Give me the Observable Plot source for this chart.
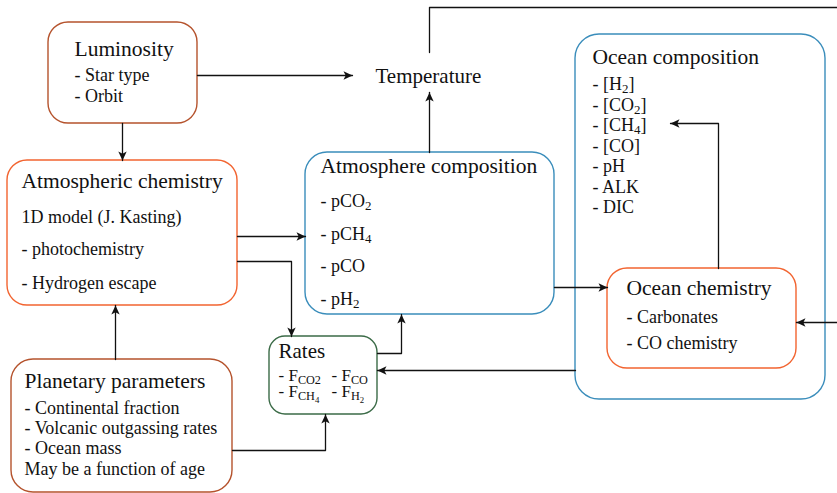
<!DOCTYPE html>
<html>
<head>
<meta charset="utf-8">
<script src="https://cdn.jsdelivr.net/npm/d3@7"></script>
<script src="https://cdn.jsdelivr.net/npm/@observablehq/plot@0.6"></script>
<style>
  html, body { margin: 0; padding: 0; background: #fff; }
  #chart svg { display: block; }
</style>
</head>
<body>
<div id="chart"></div>
<script>
// ---- Node boxes (drawn in this order) ----
const boxNames  = ["Luminosity", "Atmospheric chemistry", "Planetary parameters", "Rates", "Atmosphere composition", "Ocean composition", "Ocean chemistry"];
const boxX1     = [48, 7, 11, 269, 305, 575, 607];
const boxX2     = [197, 237, 232, 377, 554, 825, 796];
const boxY1     = [22, 160, 359, 336, 152, 34, 268];
const boxY2     = [123, 305, 492, 414, 314, 399, 368];
const boxColors = ["#b5532d", "#f26430", "#b5532d", "#3b6b47", "#3a8dbb", "#3a8dbb", "#f26430"];
const boxRadius = [20, 20, 22, 16, 22, 24, 20];

// ---- Text labels (x, baseline y, text, size) ----
const labelText = [
  "Luminosity", "- Star type", "- Orbit",
  "Temperature",
  "Atmospheric chemistry", "1D model (J. Kasting)", "- photochemistry", "- Hydrogen escape",
  "Planetary parameters", "- Continental fraction", "- Volcanic outgassing rates", "- Ocean mass", "May be a function of age",
  "Rates", "- F_{CO2}", "- F_{CO}", "- F_{CH_4}", "- F_{H_2}",
  "Atmosphere composition", "- pCO_2", "- pCH_4", "- pCO", "- pH_2",
  "Ocean composition", "- [H_2]", "- [CO_2]", "- [CH_4]", "- [CO]", "- pH", "- ALK", "- DIC",
  "Ocean chemistry", "- Carbonates", "- CO chemistry"
];
const labelX = [
  74, 74, 74,
  375,
  21, 21, 21, 21,
  24, 24, 24, 24, 24,
  278, 278, 331, 278, 331,
  320, 320, 320, 320, 320,
  592, 592, 592, 592, 592, 592, 592, 592,
  626, 626, 626
];
const labelY = [
  55, 80, 101,
  82,
  187, 222, 254, 288,
  387, 413, 433, 453, 474,
  357, 380, 380, 396, 396,
  172, 206, 239, 271, 304,
  63, 89, 110, 130, 151, 171, 192, 212,
  294, 322, 348
];
const labelSize = [
  21.5, 18, 18,
  21,
  21.5, 18, 18, 18,
  21.5, 18, 18, 18, 18,
  21, 17, 17, 17, 17,
  21.5, 18, 18, 18, 18,
  21.5, 18, 18, 18, 18, 18, 18, 18,
  21.5, 18, 18
];

// ---- Connectors (polylines) ----
const arrowIds = ["lum-temp", "lum-atmchem", "atmcomp-temp", "atmchem-atmcomp", "atmchem-rates",
  "planet-atmchem", "planet-rates", "rates-atmcomp", "oceancomp-rates", "atmcomp-oceanchem",
  "oceanchem-oceancomp", "edge-oceanchem"];
const arrowPaths = [
  [[197, 75], [352, 75]],
  [[122, 123], [122, 160]],
  [[429, 152], [429, 92]],
  [[237, 236], [305, 236]],
  [[237, 261], [291, 261], [291, 336]],
  [[115, 359], [115, 305]],
  [[232, 450], [325, 450], [325, 414]],
  [[377, 353], [401, 353], [401, 314]],
  [[575, 370], [377, 370]],
  [[554, 287], [607, 287]],
  [[718, 268], [718, 123], [670, 123]],
  [[837, 322], [796, 322]]
];
const plainIds = ["temp-feedback"];
const plainPaths = [
  [[429, 52], [429, 7], [837, 7]]
];

// ---- build tables ----
const boxes = boxNames.map((n, i) => ({name: n, x1: boxX1[i], x2: boxX2[i], y1: boxY1[i], y2: boxY2[i], color: boxColors[i], rx: boxRadius[i]}));
const labels = labelText.map((t, i) => ({text: t, x: labelX[i], y: labelY[i], size: labelSize[i]}));
const flatten = (ids, paths) => ids.flatMap((id, i) => paths[i].map(([x, y]) => ({id, x, y})));
const arrowRows = flatten(arrowIds, arrowPaths);
const plainRows = flatten(plainIds, plainPaths);

// filled "classic" arrowhead marker
function arrowHead(color, context) {
  const doc = (context && context.document) || document;
  const ns = "http://www.w3.org/2000/svg";
  const m = doc.createElementNS(ns, "marker");
  m.setAttribute("viewBox", "-10 -6 12 12");
  m.setAttribute("markerWidth", 12);
  m.setAttribute("markerHeight", 12);
  m.setAttribute("markerUnits", "userSpaceOnUse");
  m.setAttribute("refX", 0);
  m.setAttribute("refY", 0);
  m.setAttribute("orient", "auto");
  const p = doc.createElementNS(ns, "path");
  p.setAttribute("d", "M-9,-4.2L0,0L-9,4.2L-6.8,0Z");
  p.setAttribute("fill", color);
  p.setAttribute("stroke", "none");
  m.appendChild(p);
  return m;
}

const svg = Plot.plot({
  width: 837,
  height: 493,
  margin: 0,
  x: {domain: [0, 837], range: [0, 837], axis: null},
  y: {domain: [0, 493], range: [0, 493], axis: null},
  color: {type: "identity"},
  style: {fontFamily: "'Liberation Serif', 'Times New Roman', serif", background: "#fff"},
  marks: [
    // one rect mark per box so the outer Ocean box is drawn before the inner one
    ...boxes.map(b => Plot.rect([b], {
      x1: "x1", x2: "x2", y1: "y1", y2: "y2",
      rx: b.rx, fill: "white", stroke: "color", strokeWidth: 1.4
    })),
    Plot.line(plainRows, {x: "x", y: "y", z: "id", stroke: "#111", strokeWidth: 1.3}),
    Plot.line(arrowRows, {x: "x", y: "y", z: "id", stroke: "#111", strokeWidth: 1.3, markerEnd: arrowHead}),
    Plot.text(labels, {
      x: "x", y: "y", text: "text", fontSize: "size",
      textAnchor: "start", lineAnchor: "bottom", fill: "#111"
    })
  ]
});

// ---- render subscripts written as _x or _{...} ----
function parseSub(s, level, out) {
  let buf = "";
  let i = 0;
  const flush = () => { if (buf) { out.push({t: buf, level}); buf = ""; } };
  while (i < s.length) {
    const c = s[i];
    if (c === "_") {
      flush();
      if (s[i + 1] === "{") {
        let depth = 1, j = i + 2;
        while (j < s.length && depth > 0) {
          if (s[j] === "{") depth++;
          else if (s[j] === "}") depth--;
          if (depth > 0) j++;
        }
        parseSub(s.slice(i + 2, j), level + 1, out);
        i = j + 1;
      } else {
        out.push({t: s[i + 1], level: level + 1});
        i += 2;
      }
    } else {
      buf += c;
      i++;
    }
  }
  flush();
  return out;
}
const ns = "http://www.w3.org/2000/svg";
svg.querySelectorAll("text").forEach(el => {
  const s = el.textContent;
  if (!s.includes("_")) return;
  const base = parseFloat(el.getAttribute("font-size")) || 18;
  const segs = parseSub(s, 0, []);
  const offset = l => l === 0 ? 0 : l === 1 ? 0.22 * base : 0.22 * base + 0.15 * base;
  const size = l => base * Math.pow(0.72, l);
  el.textContent = "";
  let prev = 0;
  segs.forEach(seg => {
    const ts = document.createElementNS(ns, "tspan");
    ts.textContent = seg.t;
    ts.setAttribute("font-size", size(seg.level));
    const dy = offset(seg.level) - offset(prev);
    if (dy) ts.setAttribute("dy", dy);
    prev = seg.level;
    el.appendChild(ts);
  });
});

document.getElementById("chart").appendChild(svg);
</script>
</body>
</html>
